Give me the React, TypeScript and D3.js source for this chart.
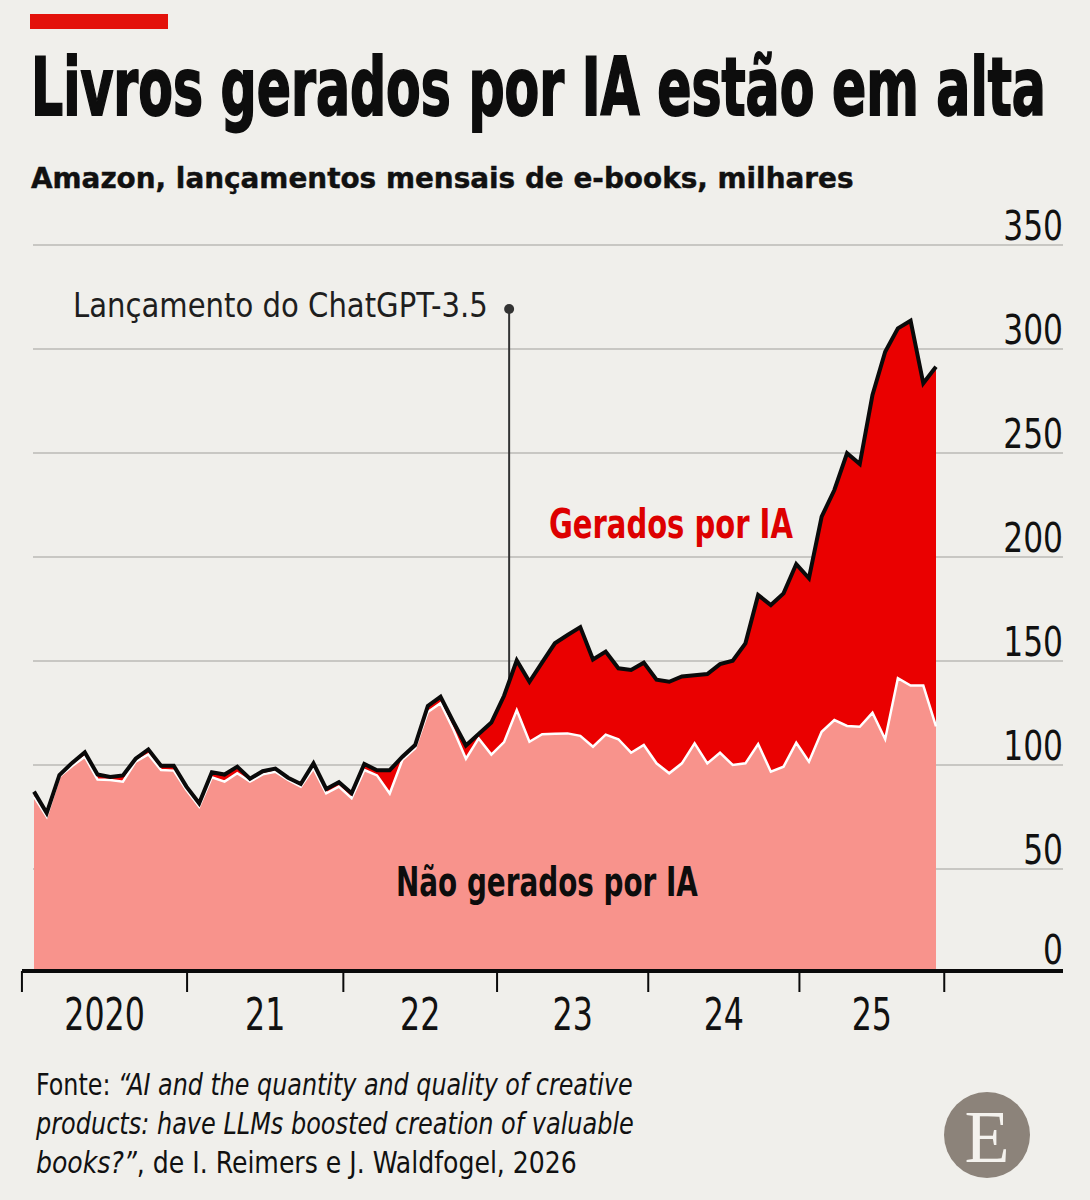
import React, { useLayoutEffect, useRef, useState } from 'react';
import * as d3 from 'd3';

// Monthly e-book releases on Amazon, thousands, Jan 2020 – Dec 2025
const nonAI = [84.8, 75.2, 94.4, 99.5, 104.0, 93.0, 92.8, 92.0, 101.6, 105.1,
  97.6, 97.3, 88.0, 80.0, 94.1, 92.0, 96.0, 92.0, 95.5, 96.8,
  92.8, 89.6, 98.4, 86.4, 89.6, 84.0, 97.6, 95.0, 86.3, 102.5,
  108.0, 125.5, 129.7, 117.2, 103.0, 112.8, 105.0, 111.0, 126.4, 111.2,
  114.8, 115.0, 115.2, 114.0, 108.8, 114.6, 112.4, 105.9, 109.6, 100.8,
  96.0, 100.8, 110.4, 100.8, 105.9, 100.0, 100.8, 110.1, 96.8, 99.2,
  110.7, 101.6, 116.0, 121.6, 118.8, 118.4, 125.1, 112.4, 141.7, 138.2, 138.2, 118.6];

const aiGenerated = [2.4, 1.7, 0.8, 1.5, 2.1, 2.4, 1.4, 3.0, 1.4, 2.4,
  2.0, 2.3, 1.6, 1.6, 2.4, 3.4, 3.2, 1.4, 1.5, 1.5,
  1.1, 1.3, 2.4, 2.1, 2.1, 2.4, 2.9, 2.5, 11.2, 1.5,
  1.6, 2.9, 3.1, 3.6, 6.4, 2.1, 15.4, 22.3, 23.9, 28.8,
  34.5, 43.5, 47.3, 52.3, 41.9, 39.9, 34.1, 39.8, 39.6, 40.2,
  44.0, 41.8, 32.7, 42.9, 42.6, 50.1, 57.7, 71.6, 80.1, 83.3,
  85.9, 88.2, 103.4, 110.6, 131.1, 126.3, 152.8, 186.3, 168.2, 175.4, 145.3, 172.9];

const yTicks = [0, 50, 100, 150, 200, 250, 300, 350];
const yearLabels = ['2020', '21', '22', '23', '24', '25'];
// year boundaries expressed in month index units
const yearBoundaries = [-0.95, 12.05, 24.35, 36.45, 48.35, 60.25, 71.65];
const chatgptLaunchIdx = 37.4;

const title = 'Livros gerados por IA estão em alta';
const subtitle = 'Amazon, lançamentos mensais de e-books, milhares';
const annotation = 'Lançamento do ChatGPT-3.5';
const labelAI = 'Gerados por IA';
const labelNonAI = 'Não gerados por IA';
const sourceLines = [
  ['Fonte: ', '“AI and the quantity and quality of creative', ''],
  ['', 'products: have LLMs boosted creation of valuable', ''],
  ['', 'books?”', ', de I. Reimers e J. Waldfogel, 2026'],
];
const sourceWidths = [597, 598, 541];

const W = 1090;
const H = 1200;
const NARROW = '"Liberation Sans Narrow", "DejaVu Sans Condensed", "Roboto Condensed", sans-serif';

function FitText({ x, y, width, children, ...rest }: any) {
  const ref = useRef<SVGTextElement>(null);
  const [s, setS] = useState(1);
  useLayoutEffect(() => {
    if (ref.current) {
      const w = ref.current.getComputedTextLength();
      if (w > 0) setS(width / w);
    }
  }, [width]);
  return (
    <text ref={ref} transform={`translate(${x},${y}) scale(${s},1)`} {...rest}>{children}</text>
  );
}

export default function App() {
  const rows = nonAI.map((v, i) => ({ idx: i, nonAI: v, ai: aiGenerated[i] }));
  const stack = d3.stack<any>().keys(['nonAI', 'ai']);
  const series = stack(rows);

  const x = d3.scaleLinear().domain([0, nonAI.length - 1]).range([34, 936]);
  const y = d3.scaleLinear().domain([0, 350]).range([973, 245]);

  const area = d3.area<any>()
    .x((d: any) => x(d.data.idx))
    .y0((d: any) => y(d[0]))
    .y1((d: any) => y(d[1]));
  const line = d3.line<any>()
    .x((d: any) => x(d.data.idx))
    .y((d: any) => y(d[1]));

  const gridX0 = 33;
  const gridX1 = 1063;
  const axisY = y(0) - 2;

  return (
    <svg width={W} height={H} style={{ position: 'absolute', left: 0, top: 0 }} xmlns="http://www.w3.org/2000/svg">
      <rect x={0} y={0} width={W} height={H} fill="#f0efeb" />
      <rect x={30} y={14} width={138} height={15} fill="#e3120b" />
      <FitText x={31} y={115} width={1015} fontFamily={NARROW} fontWeight={700} fontSize={80} fill="#0d0d0d"
        stroke="#0d0d0d" strokeWidth={1.8}>{title}</FitText>
      <FitText x={31} y={188} width={823} fontFamily={NARROW} fontWeight={700} fontSize={28} fill="#111"
        stroke="#111" strokeWidth={0.4}>{subtitle}</FitText>

      {/* gridlines */}
      {yTicks.filter(t => t > 0).map(t => (
        <line key={t} x1={gridX0} x2={gridX1} y1={y(t)} y2={y(t)} stroke="#c8c7c3" strokeWidth={2} />
      ))}

      {/* annotation leader (behind areas) */}
      <line x1={x(chatgptLaunchIdx)} x2={x(chatgptLaunchIdx)} y1={309} y2={y(0)} stroke="#333" strokeWidth={2} />
      <circle cx={x(chatgptLaunchIdx)} cy={309} r={5} fill="#333" />
      <FitText x={73} y={317} width={415} fontFamily={NARROW} fontSize={33} fill="#1e1e1e">{annotation}</FitText>

      {/* areas */}
      <path d={area(series[0]) || ''} fill="#f8938c" />
      <path d={area(series[1]) || ''} fill="#ea0000" />
      <path d={line(series[0]) || ''} fill="none" stroke="#ffffff" strokeWidth={2.5} strokeLinejoin="miter" />
      <path d={line(series[1]) || ''} fill="none" stroke="#0a0a0a" strokeWidth={4} strokeLinejoin="miter" />

      {/* y labels */}
      {yTicks.map(t => (
        <text key={t} transform={`translate(${gridX1},${y(t) - (t === 0 ? 9 : 5)}) scale(0.87,1)`} textAnchor="end"
          fontFamily={NARROW} fontSize={40} fill="#111">{t}</text>
      ))}

      {/* x axis */}
      <line x1={22} x2={gridX1} y1={axisY} y2={axisY} stroke="#0a0a0a" strokeWidth={4} />
      {yearBoundaries.map((b, i) => (
        <line key={i} x1={x(b)} x2={x(b)} y1={axisY} y2={axisY + 21} stroke="#0a0a0a" strokeWidth={2} />
      ))}
      {yearLabels.map((lab, i) => (
        <text key={lab}
          transform={`translate(${(x(yearBoundaries[i]) + x(yearBoundaries[i + 1])) / 2},1030) scale(0.8,1)`}
          textAnchor="middle" fontFamily={NARROW} fontSize={44} fill="#111">{lab}</text>
      ))}

      {/* series labels */}
      <FitText x={549} y={538} width={244} fontFamily={NARROW} fontWeight={700} fontSize={41} fill="#dd0000">{labelAI}</FitText>
      <FitText x={396} y={896} width={302} fontFamily={NARROW} fontWeight={700} fontSize={41} fill="#0d0d0d">{labelNonAI}</FitText>

      {/* source */}
      {sourceLines.map((parts, i) => (
        <FitText key={i} x={36} y={1095 + i * 39} width={sourceWidths[i]} fontFamily={NARROW} fontSize={30} fill="#111">
          {parts[0] && <tspan>{parts[0]}</tspan>}
          <tspan fontStyle="italic">{parts[1]}</tspan>
          {parts[2] && <tspan>{parts[2]}</tspan>}
        </FitText>
      ))}

      {/* logo */}
      <circle cx={987} cy={1135} r={43} fill="#8c837a" />
      <text x={987} y={1162} textAnchor="middle" fontFamily='"Liberation Serif", "DejaVu Serif", serif'
        fontSize={74} fill="#f4f2ee">E</text>
    </svg>
  );
}
